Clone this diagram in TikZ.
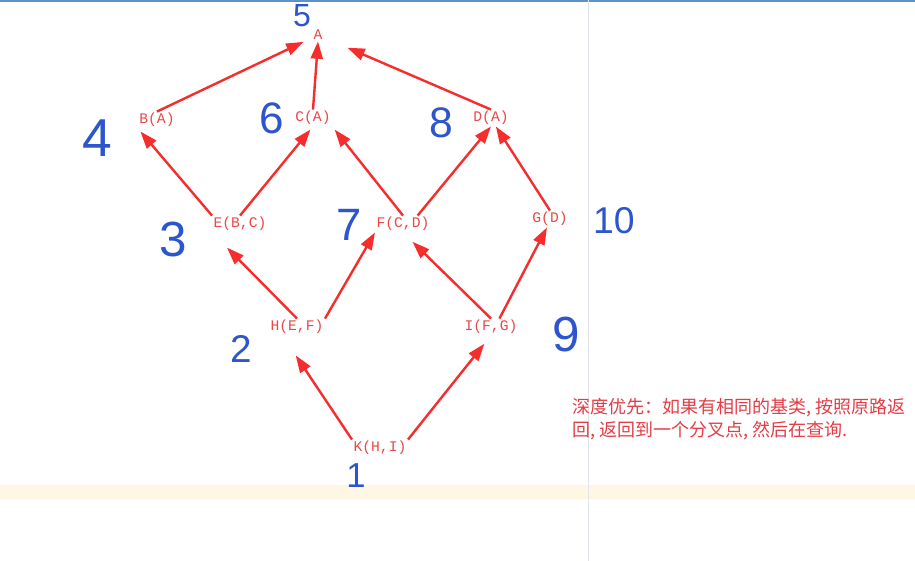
\documentclass[tikz,border=0pt]{standalone}
\usepackage{fontspec}
\setmonofont{Liberation Mono}
\newfontfamily\cjk{Noto Sans CJK SC}
\newfontfamily\handfont{Liberation Sans}
\usetikzlibrary{arrows.meta}
\definecolor{nodered}{RGB}{232,72,72}
\definecolor{arrowred}{RGB}{245,45,45}
\definecolor{penblue}{RGB}{45,85,205}
\definecolor{notered}{RGB}{228,60,70}
\definecolor{topblue}{RGB}{95,145,200}
\definecolor{bandyellow}{RGB}{253,247,228}
\definecolor{rulegray}{RGB}{225,228,232}
\begin{document}
\begin{tikzpicture}[x=0.75pt,y=0.75pt,yscale=-1,
  cls/.style={text=nodered, font=\ttfamily\fontsize{11}{12}\selectfont, inner sep=1pt},
  hand/.style={text=penblue, inner sep=0pt, font=\handfont\fontsize{#1}{#1}\selectfont},
  arr/.style={draw=arrowred, line width=1.8pt, -{Triangle[length=13pt,width=9pt]}}]
\fill[white] (0,0) rectangle (915,561);
\useasboundingbox (0,0) rectangle (915,561);
\fill[topblue] (0,0) rectangle (915,2);
\fill[bandyellow] (0,485) rectangle (915,499);
\draw[rulegray] (588,0) -- (588,561);
% classes
\node[cls] (A) at (318,35) {A};
\node[cls] (B) at (157,120) {B(A)};
\node[cls] (C) at (313,118) {C(A)};
\node[cls] (D) at (491,118) {D(A)};
\node[cls] (E) at (240,224) {E(B,C)};
\node[cls] (F) at (403,224) {F(C,D)};
\node[cls] (G) at (550,219) {G(D)};
\node[cls] (H) at (297,327) {H(E,F)};
\node[cls] (I) at (491,327) {I(F,G)};
\node[cls] (K) at (380,448) {K(H,I)};
% inheritance arrows
\draw[arr, shorten >=12pt] (B.north) -- (A.center);
\draw[arr] (C.north) -- (A.south);
\draw[arr, shorten >=24pt] (D.north) -- (A.center);
\draw[arr, shorten >=3pt] (E.north west) -- (B.south west);
\draw[arr, shorten >=3pt] (E.north) -- (C.south);
\draw[arr, shorten >=3pt] (F.north) -- (C.south east);
\draw[arr] (F.30) -- (D.south);
\draw[arr] (G.north) -- (D.-60);
\draw[arr, shorten >=16pt] (H.north) -- (E.south west);
\draw[arr] (H.north east) -- (F.south west);
\draw[arr, shorten >=10pt] (I.north) -- (F.south);
\draw[arr] (I.45) -- (G.-110);
\draw[arr, shorten >=18pt] (K.north west) -- (H.-150);
\draw[arr, shorten >=8pt] (K.north east) -- (I.south);
% search order
\node[hand=24] (n5) at (302,16) {5};
\node[hand=40] (n4) at (97,138) {4};
\node[hand=33] (n6) at (272,118) {6};
\node[hand=32] (n8) at (441,123) {8};
\node[hand=37] (n3) at (173,240) {3};
\node[hand=34] (n7) at (349,225) {7};
\node[hand=28] (n10) at (614,221) {10};
\node[hand=29] (n2) at (241,349) {2};
\node[hand=37] (n9) at (566,335) {9};
\node[hand=26] (n1) at (356,476) {1};
\node[anchor=north west, inner sep=0pt, align=left, text=notered, font=\cjk\fontsize{13.5}{17.3}\selectfont] (note) at (572,398) {深度优先：如果有相同的基类, 按照原路返\\回, 返回到一个分叉点, 然后在查询.};
\end{tikzpicture}
\end{document}
